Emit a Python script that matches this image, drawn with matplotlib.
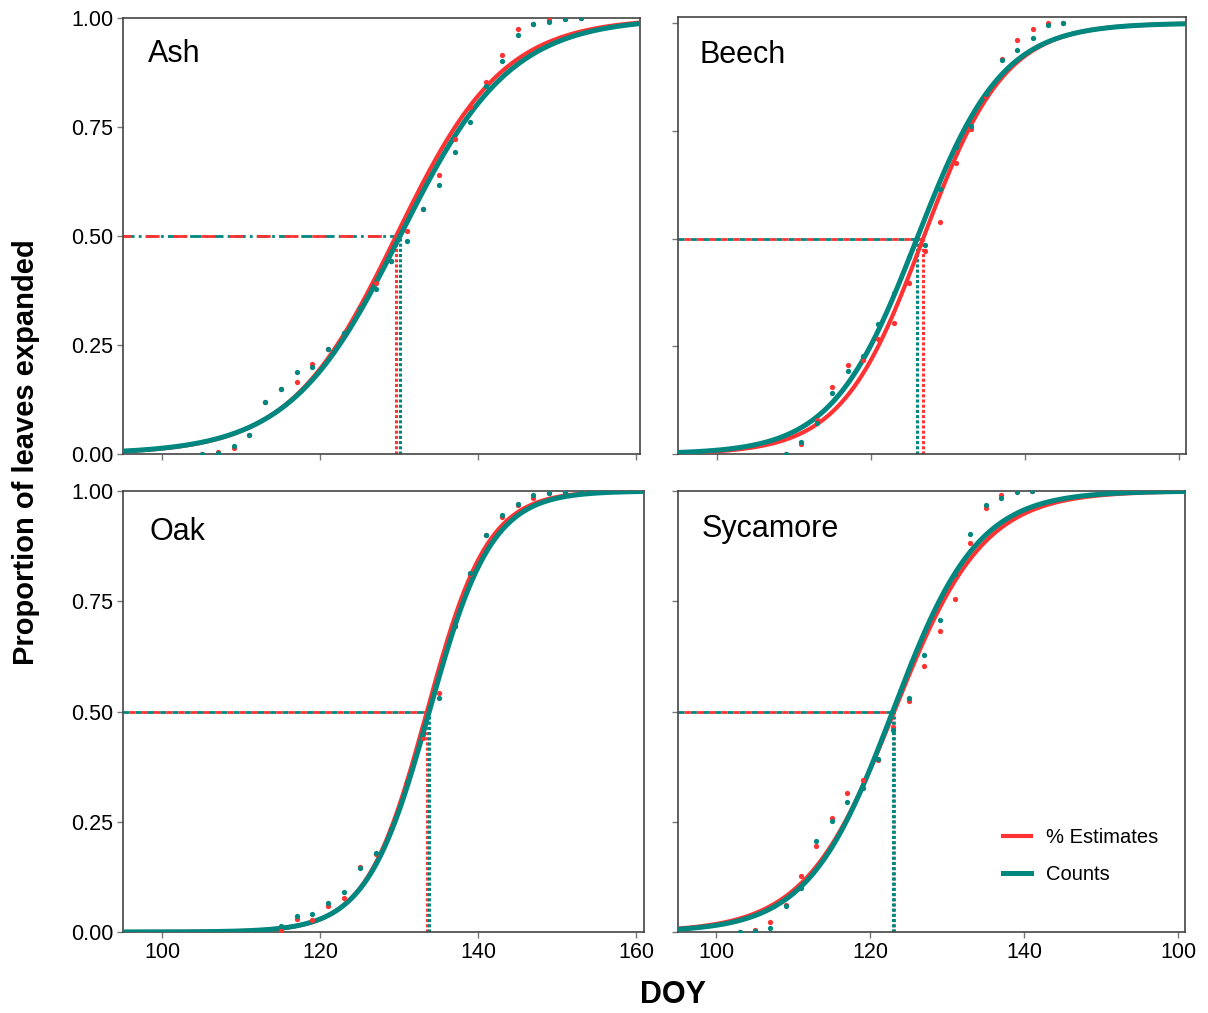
import numpy as np
import matplotlib
matplotlib.use('Agg')
import matplotlib.pyplot as plt

plt.rcParams['font.family'] = ['Liberation Sans', 'DejaVu Sans']

# Observed proportions (every second day)
species = ['Ash', 'Beech', 'Oak', 'Sycamore']

ash_days = list(range(105, 154, 2))
ash_est = [0.0, 0.004, 0.013, 0.044, 0.119, 0.150, 0.164, 0.206, 0.241, 0.278,
           0.335, 0.392, 0.442, 0.511, 0.561, 0.641, 0.722, 0.795, 0.853, 0.914,
           0.975, 0.986, 0.995, 0.998, 1.0]
ash_cnt = [0.0, 0.003, 0.018, 0.044, 0.119, 0.149, 0.189, 0.200, 0.241, 0.278,
           0.335, 0.379, 0.442, 0.488, 0.561, 0.617, 0.693, 0.762, 0.843, 0.902,
           0.961, 0.986, 0.990, 0.998, 1.0]

beech_days = list(range(109, 146, 2))
beech_est = [0.0, 0.023, 0.080, 0.156, 0.206, 0.218, 0.268, 0.303, 0.396, 0.471,
             0.539, 0.675, 0.755, 0.828, 0.917, 0.960, 0.985, 1.0, 1.0]
beech_cnt = [0.0, 0.029, 0.073, 0.141, 0.192, 0.227, 0.301, 0.373, 0.457, 0.485,
             0.616, 0.712, 0.760, 0.836, 0.915, 0.938, 0.965, 0.996, 1.0]

oak_days = list(range(115, 154, 2))
oak_est = [0.005, 0.029, 0.027, 0.060, 0.076, 0.148, 0.178, 0.234, 0.340, 0.441,
           0.543, 0.694, 0.811, 0.900, 0.940, 0.968, 0.985, 0.995, 0.998, 1.0]
oak_cnt = [0.014, 0.036, 0.040, 0.065, 0.091, 0.144, 0.180, 0.234, 0.340, 0.448,
           0.530, 0.694, 0.813, 0.900, 0.946, 0.970, 0.990, 0.995, 0.998, 1.0]

syc_days = list(range(103, 142, 2))
syc_est = [0.0, 0.005, 0.023, 0.062, 0.127, 0.194, 0.258, 0.316, 0.344, 0.390,
           0.465, 0.523, 0.604, 0.683, 0.755, 0.883, 0.962, 0.990, 1.0, 1.0]
syc_cnt = [0.0, 0.002, 0.008, 0.059, 0.099, 0.206, 0.252, 0.294, 0.326, 0.392,
           0.458, 0.530, 0.627, 0.707, 0.811, 0.903, 0.968, 0.985, 0.998, 1.0]

# fitted logistic curves: day of 50% expansion and scale (days)
mid_est = [129.6, 126.8, 133.5, 123.1]
mid_cnt = [130.1, 126.0, 133.8, 122.9]
scale_est = [6.8, 5.3, 3.85, 5.8]
scale_cnt = [7.0, 5.5, 3.95, 5.5]

x_ticks = [100, 120, 140, 160]
x_ticklabels_left = ['100', '120', '140', '160']
x_ticklabels_right = ['100', '120', '140', '100']
y_ticks = [0.0, 0.25, 0.5, 0.75, 1.0]

red = '#FF3333'
teal = '#00877F'

days = [ash_days, beech_days, oak_days, syc_days]
est = [ash_est, beech_est, oak_est, syc_est]
cnt = [ash_cnt, beech_cnt, oak_cnt, syc_cnt]

W, H = 1208, 1013
fig = plt.figure(figsize=(W / 100, H / 100), dpi=100)

# panel boxes in pixels: left, right, top, bottom
boxes = [(123, 640, 18, 454), (678, 1186, 17, 454),
         (123, 644, 491, 932), (678, 1185, 491, 932)]
ytops = [1.0, 1.014, 1.0, 1.0]
xrights = [160.5, 160.9, 161.0, 160.9]
label_pos = [(0.048, 0.918), (0.043, 0.914), (0.05, 0.908), (0.047, 0.914)]

xx = np.linspace(95, 162, 400)

for i, name in enumerate(species):
    l, r, t, b = boxes[i]
    ax = fig.add_axes([l / W, 1 - b / H, (r - l) / W, (b - t) / H])
    ax.set_xlim(95, xrights[i])
    ax.set_ylim(0, ytops[i])

    y_e = 1 / (1 + np.exp(-(xx - mid_est[i]) / scale_est[i]))
    y_c = 1 / (1 + np.exp(-(xx - mid_cnt[i]) / scale_cnt[i]))

    # reference lines at 50 %
    if i == 0:
        ax.plot([95, mid_cnt[i]], [0.5, 0.5], color=teal, lw=2.0,
                ls=(0, (4, 1.5, 1, 1.5)), zorder=2)
        ax.plot([95, mid_est[i]], [0.5, 0.5], color=red, lw=2.0,
                ls=(2, (5, 5)), zorder=2)
    else:
        ax.plot([95, mid_cnt[i]], [0.5, 0.5], color=teal, lw=2.0,
                ls=(0, (2.2, 2.2)), zorder=2)
        ax.plot([95, mid_est[i]], [0.5, 0.5], color=red, lw=2.0,
                ls=(2.2, (2.2, 2.2)), zorder=2)
    ax.plot([mid_est[i], mid_est[i]], [0, 0.5], color=red, lw=2.2,
            ls=(0, (1, 0.7)), zorder=2)
    ax.plot([mid_cnt[i], mid_cnt[i]], [0, 0.5], color=teal, lw=2.2,
            ls=(0, (1, 0.7)), zorder=2)

    ax.plot(xx, y_e, color=red, lw=3.0, zorder=3, label='% Estimates')
    ax.plot(xx, y_c, color=teal, lw=3.6, zorder=4, label='Counts')
    ax.plot(days[i], est[i], 'o', color=red, ms=3.8, mew=0, zorder=5)
    ax.plot(days[i], cnt[i], 'o', color=teal, ms=3.8, mew=0, zorder=6)

    ax.text(label_pos[i][0], label_pos[i][1], name, transform=ax.transAxes,
            fontsize=22, ha='left', va='center')

    ax.set_xticks(x_ticks)
    ax.set_yticks(y_ticks)
    if i >= 2:
        ax.set_xticklabels(x_ticklabels_left if i == 2 else x_ticklabels_right)
    else:
        ax.set_xticklabels([])
    if i % 2 == 0:
        ax.set_yticklabels(['0.00', '0.25', '0.50', '0.75', '1.00'])
    else:
        ax.set_yticklabels([])
    ax.tick_params(direction='out', length=4, width=1, color='#777777',
                   labelsize=15.5, pad=3)
    for sp in ax.spines.values():
        sp.set_color('#444444')
        sp.set_linewidth(1.2)

    if i == 3:
        ax.legend(loc='upper left', bbox_to_anchor=(0.641, 0.236),
                  frameon=False, fontsize=14.5, handlelength=1.4,
                  handletextpad=0.75, labelspacing=0.9, borderpad=0,
                  borderaxespad=0)

fig.text(26 / W, 1 - 452 / H, 'Proportion of leaves expanded', rotation=90,
         fontsize=21, fontweight='bold', ha='center', va='center')
fig.text(673 / W, 1 - 995 / H, 'DOY', fontsize=22, fontweight='bold',
         ha='center', va='center')

fig.savefig('out.png', dpi=100)
